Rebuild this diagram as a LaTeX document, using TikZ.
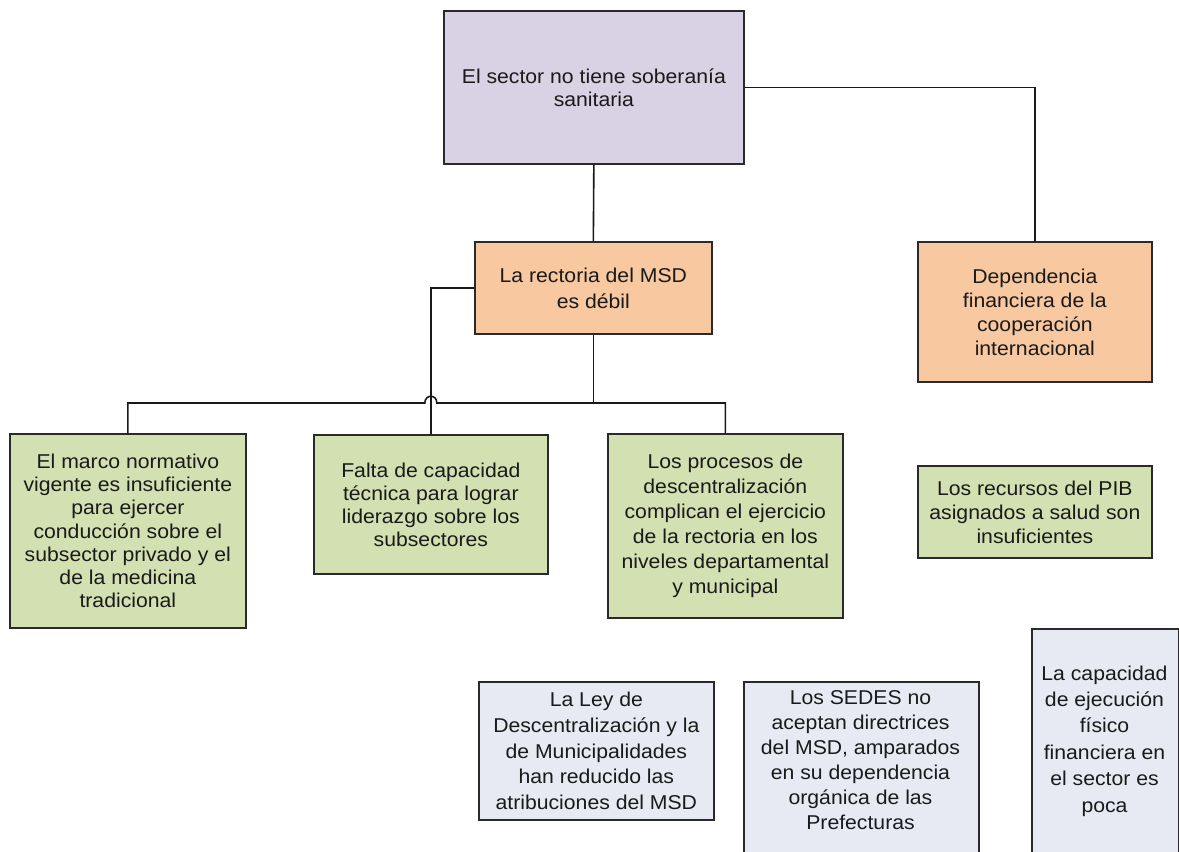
\documentclass[tikz,border=0pt]{standalone}
\usepackage{fontspec}
\setmainfont{Liberation Sans}[FakeStretch=1.06]
\usetikzlibrary{calc}
\definecolor{lav}{HTML}{D9D1E4}
\definecolor{peach}{HTML}{F8C8A0}
\definecolor{grn}{HTML}{D3E0B2}
\definecolor{blu}{HTML}{E7EAF2}
\definecolor{bordc}{HTML}{2A2A2A}
\definecolor{txt}{HTML}{1A1A1A}
\begin{document}
\begin{tikzpicture}[x=1pt,y=-1pt,
  box/.style={draw=bordc, line width=1.7pt, inner sep=0pt, align=center, text=txt,
              anchor=north west, font=\fontsize{20}{24}\selectfont},
  lavbox/.style={box, fill=lav},
  peachbox/.style={box, fill=peach},
  grnbox/.style={box, fill=grn},
  blubox/.style={box, fill=blu},
  plaintext/.style={inner sep=0pt, align=center, text=txt, font=\fontsize{20}{25.5}\selectfont},
  conn/.style={draw=black!90, line width=1.6pt}]
\useasboundingbox (0,0) rectangle (1179,852);
\fill[white] (0,0) rectangle (1179,852);

\node[lavbox, minimum width=300pt, minimum height=153pt, font=\fontsize{20}{23}\selectfont] (top) at (443,10)
  {El sector no tiene soberanía\\sanitaria};
\node[peachbox, minimum width=237pt, minimum height=92pt, font=\fontsize{20}{26}\selectfont] (rect) at (474,241)
  {La rectoria del MSD\\es débil};
\node[peachbox, minimum width=234pt, minimum height=140pt] (dep) at (917,241)
  {Dependencia\\financiera de la\\cooperación\\internacional};

\node[grnbox, minimum width=236pt, minimum height=194pt, font=\fontsize{20}{23.3}\selectfont] (b1) at (9,433)
  {El marco normativo\\vigente es insuficiente\\para ejercer\\conducción sobre el\\subsector privado y el\\de la medicina\\tradicional};
\node[grnbox, minimum width=234pt, minimum height=139pt, font=\fontsize{20}{23}\selectfont] (b2) at (313,434)
  {Falta de capacidad\\técnica para lograr\\liderazgo sobre los\\subsectores};
\node[grnbox, minimum width=235pt, minimum height=184pt, font=\fontsize{20}{25}\selectfont] (b3) at (607,433)
  {Los procesos de\\descentralización\\complican el ejercicio\\de la rectoria en los\\niveles departamental\\y municipal};
\node[grnbox, minimum width=234pt, minimum height=92pt] (pib) at (917,465)
  {Los recursos del PIB\\asignados a salud son\\insuficientes};

\node[blubox, minimum width=235pt, minimum height=138pt, font=\fontsize{20}{25.8}\selectfont] (ley) at (478,681)
  {La Ley de\\Descentralización y la\\de Municipalidades\\han reducido las\\atribuciones del MSD};
\node[blubox, minimum width=235pt, minimum height=200pt] (sedes) at (743,681) {};
\node[plaintext, font=\fontsize{20}{25}\selectfont] (sedestxt) at (860.5,760.5)
  {Los SEDES no\\aceptan directrices\\del MSD, amparados\\en su dependencia\\orgánica de las\\Prefecturas};
\node[blubox, minimum width=147pt, minimum height=260pt] (cap) at (1031,628) {};
\node[plaintext, font=\fontsize{20}{26.4}\selectfont] (captxt) at (1104.5,741)
  {La capacidad\\de ejecución\\físico\\financiera en\\el sector es\\poca};

% connectors
\coordinate (bus) at (593,403);
\draw[conn] (top.south) -- (rect.north);
\draw[conn] (top.east) -| (dep.north);
\draw[conn] (rect.south) -- (rect.south |- bus);
\draw[conn] (rect.west) -| (b2.north);
\coordinate (hopL) at ($(b2.north |- bus)+(-6,0)$);
\coordinate (hopR) at ($(b2.north |- bus)+(6,0)$);
\draw[conn] (b1.north) -- (b1.north |- bus) -- (hopL)
  .. controls +(0,-9) and +(0,-9) .. (hopR) -- (b3.north |- bus) -- (b3.north);
\end{tikzpicture}
\end{document}
